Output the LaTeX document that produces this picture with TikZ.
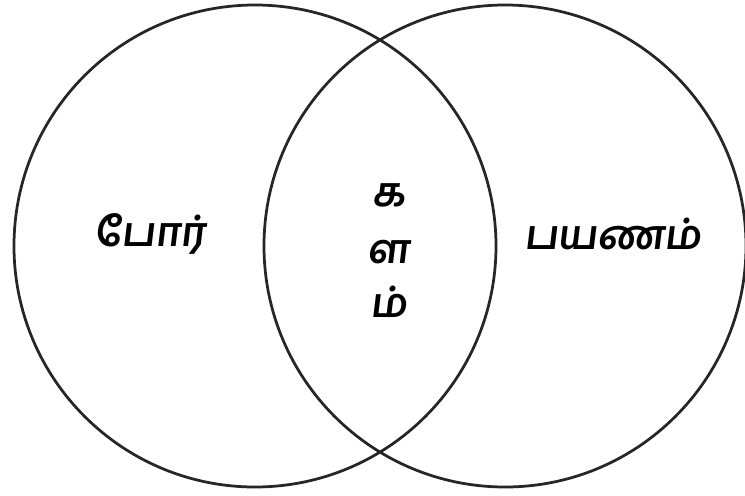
\documentclass[tikz,border=0pt]{standalone}
\usepackage{fontspec}
\usepackage{tikz}
\usetikzlibrary{positioning}
\newfontfamily\tamilfont[Script=Tamil,FakeSlant=0.12]{Hind Madurai}
\tikzset{
  fig/.style={x=0.2mm,y=-0.2mm},
  ring/.style={draw,circle,line width=0.55mm,minimum size=96.4mm,inner sep=0pt,
               draw=black!85},
  word/.style={font=\fontsize{23}{28}\selectfont\tamilfont\bfseries,inner sep=1pt},
}
\begin{document}
\begin{tikzpicture}[fig]
\useasboundingbox (0,0) rectangle (745,495);

% The two sets
\node[ring] (war) at (255,246) {};
\node[ring] (trip) at (505,246) {};

% Set labels
\node[word] (warlbl) at (150,234) {போர்};
\node[word] (triplbl) at (613,234) {பயணம்};

% Shared word, one letter per line
\node[word] (k) at (389,195) {க};
\node[word] (l) at (389,252) {ள};
\node[word] (m) at (389,302) {ம்};

\end{tikzpicture}
\end{document}
